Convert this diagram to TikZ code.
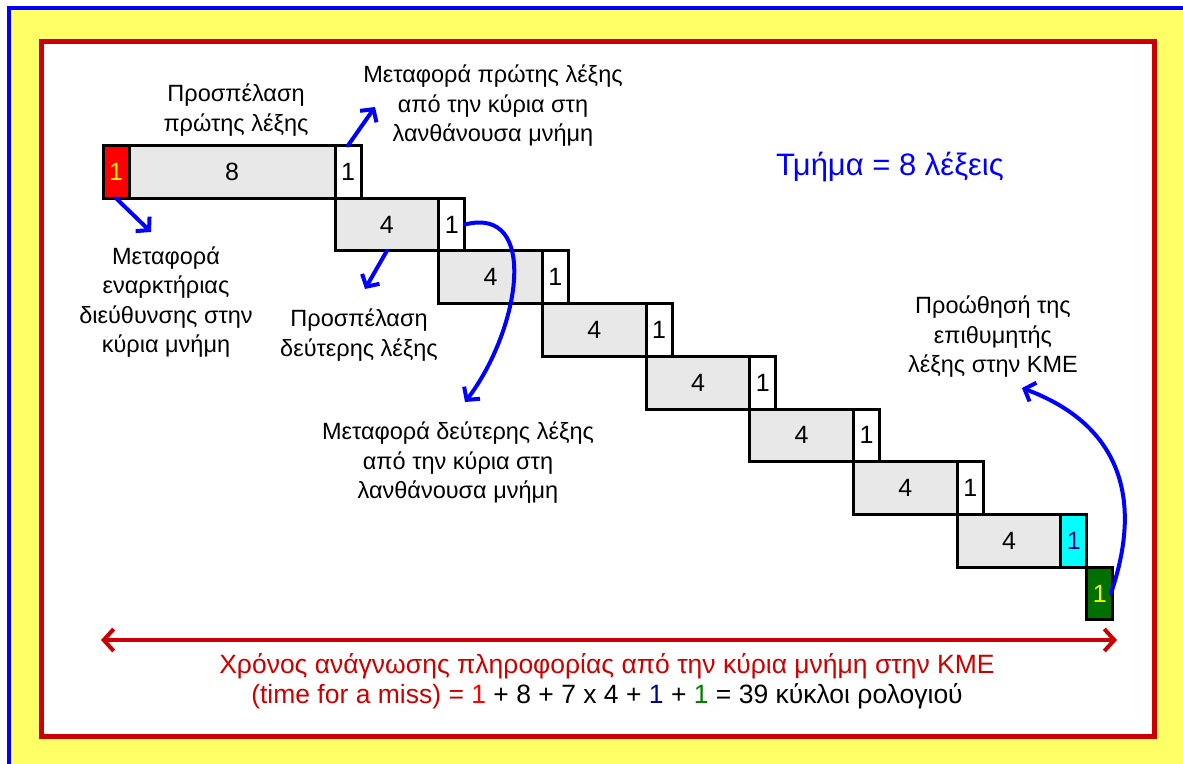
\documentclass[tikz,border=0pt]{standalone}
\usepackage{fontspec}
\setmainfont{Liberation Sans}
\usetikzlibrary{arrows.meta,positioning}
\definecolor{frameblue}{RGB}{0,0,255}
\definecolor{framered}{RGB}{204,0,0}
\definecolor{paneyellow}{RGB}{255,255,102}
\definecolor{cellgray}{RGB}{232,232,232}
\definecolor{cellcyan}{RGB}{0,255,255}
\definecolor{cellgreen}{RGB}{0,112,0}
\definecolor{navyone}{RGB}{0,0,150}
\definecolor{greenone}{RGB}{0,128,0}

\begin{document}
\begin{tikzpicture}[x=1pt, y=-1pt,
    cell/.style={draw=black, line width=3pt, minimum height=52.7pt, inner sep=0pt, outer sep=0pt,
      font=\fontsize{25}{25}\selectfont},
    note/.style={align=center, font=\fontsize{23.5}{29.5}\selectfont},
    pointer/.style={draw=frameblue, line width=4pt, line cap=round, -{Straight Barb[length=9pt,width=20pt]}}]
    \useasboundingbox (0,0) rectangle (1183,763);
    \clip (0,0) rectangle (1183,763);

    % frames
    \draw[frameblue, line width=4pt, fill=paneyellow] (9,8) rectangle (1250,820);
    \draw[framered, line width=5pt, fill=white] (41,41) rectangle (1154,736);

    % first row
    \node[cell, fill=red, text=yellow, minimum width=26pt, anchor=north west] (start) at (103,145.5) {1};
    \node[cell, fill=cellgray, minimum width=206pt, right=0pt of start] (first) {8};
    \node[cell, fill=white, minimum width=26pt, right=0pt of first] (w0) {1};

    % the other words of the block
    \foreach \k [remember=\k as \j (initially 0)] in {1,...,6} {
        \node[cell, fill=cellgray, minimum width=103.7pt, anchor=north west] (g\k) at (w\j.south west) {4};
        \node[cell, fill=white, minimum width=26pt, right=0pt of g\k] (w\k) {1};
    }
    \node[cell, fill=cellgray, minimum width=103.7pt, anchor=north west] (g7) at (w6.south west) {4};
    \node[cell, fill=cellcyan, text=navyone, minimum width=26pt, right=0pt of g7] (w7) {1};
    \node[cell, fill=cellgreen, text=yellow, minimum width=26pt, anchor=north west] (cpu) at (w7.south east) {1};

    % labels
    \node[note] (lblfirst) at (236,110) {Προσπέλαση\\πρώτης λέξης};
    \node[note] (lblmove1) at (493,106) {Μεταφορά πρώτης λέξης\\από την κύρια στη\\λανθάνουσα μνήμη};
    \node[note, text=frameblue, font=\fontsize{31}{31}\selectfont] (lblblock) at (890,167) {Τμήμα = 8 λέξεις};
    \node[note] (lbladdr) at (166,302) {Μεταφορά\\εναρκτήριας\\διεύθυνσης στην\\κύρια μνήμη};
    \node[note] (lblsecond) at (359,335) {Προσπέλαση\\δεύτερης λέξης};
    \node[note] (lblmove2) at (458,463) {Μεταφορά δεύτερης λέξης\\από την κύρια στη\\λανθάνουσα μνήμη};
    \node[note] (lblcpu) at (993,337) {Προώθησή της\\επιθυμητής\\λέξης στην ΚΜΕ};
    \node[note, text=framered, font=\fontsize{26.5}{30}\selectfont] (lbltime) at (607,681)
        {Χρόνος ανάγνωσης πληροφορίας από την κύρια μνήμη στην ΚΜΕ\\
        (time for a miss) = \textcolor{red}{1} \textcolor{black}{+ 8 + 7 x 4 +} \textcolor{navyone}{1}
        \textcolor{black}{+} \textcolor{greenone}{1} \textcolor{black}{= 39 κύκλοι ρολογιού}};

    % arrows
    \coordinate (a1) at (151,232);
    \coordinate (a2) at (375,107);
    \coordinate (a3) at (365,289);
    \coordinate (a4) at (465,402);
    \coordinate (a5) at (1022,388);
    \draw[pointer] (start.south) -- (a1);
    \draw[pointer] (w0.north) -- (a2);
    \draw[pointer] (g1.south) -- (a3);
    \draw[pointer] (w1.east) .. controls (540,205) and (520,330) .. (a4);
    \draw[pointer] ([xshift=-2pt]cpu.east) .. controls (1148,485) and (1108,420) .. (a5);

    \coordinate (tleft) at (101,640);
    \coordinate (tright) at (1117,640);
    \draw[framered, line width=4pt, line cap=round,
        {Straight Barb[length=10pt,width=22pt]}-{Straight Barb[length=10pt,width=22pt]}] (tleft) -- (tright);
\end{tikzpicture}
\end{document}
